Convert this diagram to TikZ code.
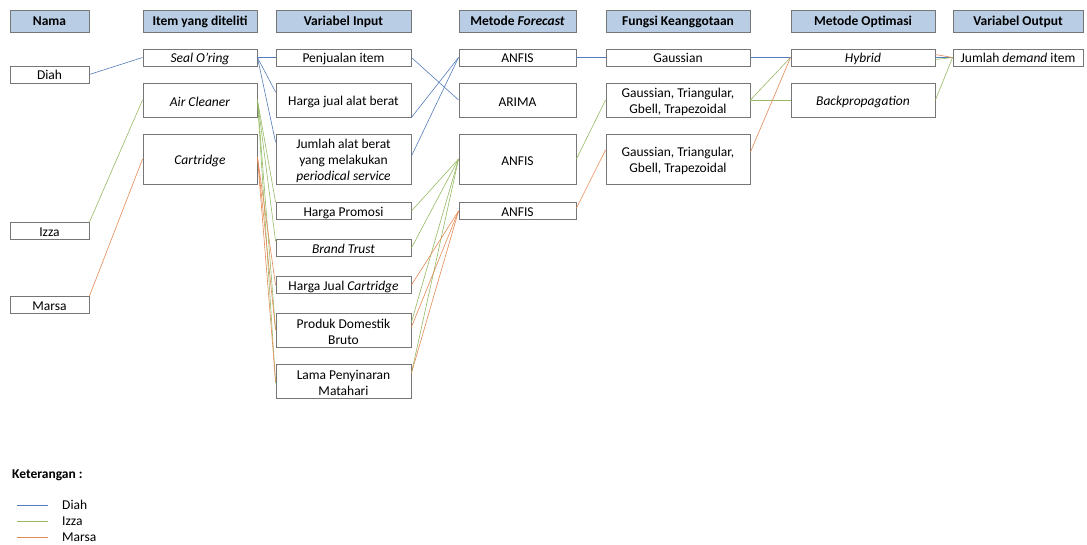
\documentclass[tikz,border=0pt]{standalone}
\usepackage{fontspec}
\setmainfont{Carlito}
\usepackage{tikz}

\definecolor{hdrblue}{RGB}{185,205,229}
\definecolor{boxgray}{RGB}{118,118,118}
\definecolor{diahc}{RGB}{84,124,186}
\definecolor{izzac}{RGB}{150,185,100}
\definecolor{marsac}{RGB}{226,138,84}

\newcommand{\boxfont}{\fontsize{13.5}{16}\selectfont}
\newcommand{\firstline}{\rule{0pt}{13.5pt}}

\tikzset{
  hdr/.style={draw=boxgray, fill=hdrblue, line width=0.9pt, inner sep=0pt,
    minimum height=22pt, text height=11pt, text depth=2pt, font=\boxfont\bfseries},
  box/.style={draw=boxgray, line width=0.9pt, inner sep=0pt, align=center},
  one/.style={minimum height=17pt, text height=11.5pt, text depth=1pt},
  two/.style={minimum height=34pt},
  three/.style={minimum height=50pt},
  diah/.style={diahc, line width=0.6pt},
  izza/.style={izzac, line width=0.6pt},
  marsa/.style={marsac, line width=0.6pt},
  legtext/.style={anchor=west, inner sep=0pt}
}

\begin{document}
\begin{tikzpicture}[x=1pt, y=-1pt, font=\boxfont]
  \useasboundingbox (0,0) rectangle (1087,545);

  % column headers
  \node[hdr, minimum width=79pt]  (hnama)  at (49.5,21)  {Nama};
  \node[hdr, minimum width=114pt] (hitem)  at (200,21)   {Item yang diteliti};
  \node[hdr, minimum width=135pt] (hinput) at (343.5,21) {Variabel Input};
  \node[hdr, minimum width=117pt] (hfc)    at (517.5,21) {Metode \textit{Forecast}};
  \node[hdr, minimum width=144pt] (hmf)    at (678,21)   {Fungsi Keanggotaan};
  \node[hdr, minimum width=144pt] (hopt)   at (863,21)   {Metode Optimasi};
  \node[hdr, minimum width=130pt] (hout)   at (1018,21)  {Variabel Output};

  % nama
  \node[box, one, minimum width=79pt] (diah)  at (49.5,74.5) {Diah};
  \node[box, one, minimum width=79pt] (izza)  at (49.5,231)  {Izza};
  \node[box, one, minimum width=79pt] (marsa) at (49.5,305)  {Marsa};

  % item
  \node[box, one,   minimum width=114pt] (seal) at (200,57.5) {\textit{Seal O’ring}};
  \node[box, two,   minimum width=114pt] (air)  at (200,100)  {\firstline\textit{Air Cleaner}};
  \node[box, three, minimum width=114pt] (cart) at (200,159)  {\firstline\textit{Cartridge}};

  % variabel input
  \node[box, one,   minimum width=135pt] (pjl)   at (343.5,57.5) {Penjualan item};
  \node[box, two,   minimum width=135pt] (hja)   at (343.5,100)  {\firstline Harga jual alat berat};
  \node[box, three, minimum width=135pt] (jml)   at (343.5,159)  {\firstline Jumlah alat berat\\yang melakukan\\\textit{periodical service}};
  \node[box, one,   minimum width=135pt] (promo) at (343.5,211)  {Harga Promosi};
  \node[box, one,   minimum width=135pt] (brand) at (343.5,248)  {\textit{Brand Trust}};
  \node[box, one,   minimum width=135pt] (hjc)   at (343.5,285)  {Harga Jual \textit{Cartridge}};
  \node[box, two,   minimum width=135pt] (pdb)   at (343.5,330)  {\firstline Produk Domestik\\Bruto};
  \node[box, two,   minimum width=135pt] (lpm)   at (343.5,381)  {\firstline Lama Penyinaran\\Matahari};

  % metode forecast
  \node[box, one,   minimum width=117pt] (anf1)  at (517.5,57.5) {ANFIS};
  \node[box, two,   minimum width=117pt] (arima) at (517.5,100)  {\firstline ARIMA};
  \node[box, three, minimum width=117pt] (anf2)  at (517.5,159)  {\firstline ANFIS};
  \node[box, one,   minimum width=117pt] (anf3)  at (517.5,211)  {ANFIS};

  % fungsi keanggotaan
  \node[box, one,   minimum width=144pt] (gs1) at (678,57.5) {Gaussian};
  \node[box, two,   minimum width=144pt] (gs2) at (678,100)  {\firstline Gaussian, Triangular,\\Gbell, Trapezoidal};
  \node[box, three, minimum width=144pt] (gs3) at (678,159)  {\firstline Gaussian, Triangular,\\Gbell, Trapezoidal};

  % metode optimasi, output
  \node[box, one, minimum width=144pt] (hyb) at (863,57.5) {\textit{Hybrid}};
  \node[box, two, minimum width=144pt] (bp)  at (863,100)  {\firstline\textit{Backpropagation}};
  \node[box, one, minimum width=130pt] (out) at (1018,57.5) {Jumlah \textit{demand} item};

  % Diah
  \draw[diah] (diah.east) -- (seal.west);
  \draw[diah] (seal.east) -- (pjl.west);
  \draw[diah] (seal.east) -- ([yshift=8pt]hja.west);
  \draw[diah] (seal.east) -- ([yshift=17pt]jml.west);
  \draw[diah] (pjl.east) -- (arima.west);
  \draw[diah] (hja.south east) -- (anf1.west);
  \draw[diah] ([yshift=3pt]jml.east) -- (anf1.west);
  \draw[diah] (anf1.east) -- (gs1.west);
  \draw[diah] (gs1.east) -- (hyb.west);
  \draw[diah] (hyb.east) -- (out.west);

  % Izza
  \draw[izza] (izza.north east) -- (air.west);
  \draw[izza] (air.east) -- (promo.north west);
  \draw[izza] (air.east) -- ([yshift=-2pt]brand.north west);
  \draw[izza] (air.east) -- (pdb.west);
  \draw[izza] (air.east) -- ([yshift=-2pt]lpm.west);
  \draw[izza] (promo.east) -- (anf2.west);
  \draw[izza] (brand.east) -- (anf2.west);
  \draw[izza] ([yshift=8pt]pdb.east) -- (anf2.west);
  \draw[izza] ([yshift=8pt]lpm.east) -- (anf2.west);
  \draw[izza] (anf2.east) -- (gs2.west);
  \draw[izza] (gs2.east) -- (hyb.west);
  \draw[izza] (gs2.east) -- (bp.west);
  \draw[izza] ([yshift=-2pt]hyb.east) -- (out.west);
  \draw[izza] (bp.east) -- (out.west);

  % Marsa
  \draw[marsa] (marsa.north east) -- (cart.west);
  \draw[marsa] ([yshift=2pt]cart.east) -- (hjc.west);
  \draw[marsa] ([yshift=2pt]cart.east) -- (pdb.west);
  \draw[marsa] ([yshift=2pt]cart.east) -- (lpm.west);
  \draw[marsa] (hjc.east) -- (anf3.west);
  \draw[marsa] ([yshift=3pt]pdb.east) -- (anf3.west);
  \draw[marsa] ([yshift=8pt]lpm.east) -- (anf3.west);
  \draw[marsa] ([yshift=3pt]anf3.east) -- ([yshift=9pt]gs3.west);
  \draw[marsa] ([yshift=7pt]gs3.east) -- (hyb.west);
  \draw[marsa] ([yshift=3pt]hyb.east) -- (out.west);

  % keterangan
  \node[legtext, font=\boxfont\bfseries] (ket) at (12,475) {Keterangan :};
  \node[legtext] (ldiah)  at (62,505) {Diah};
  \node[legtext] (lizza)  at (62,521) {Izza};
  \node[legtext] (lmarsa) at (62,537) {Marsa};
  \coordinate (kdiah)  at (17,505);
  \coordinate (kizza)  at (17,521);
  \coordinate (kmarsa) at (17,537);
  \draw[diah, line width=0.9pt]  (kdiah)  -- ++(31,0);
  \draw[izza, line width=0.9pt]  (kizza)  -- ++(31,0);
  \draw[marsa, line width=0.9pt] (kmarsa) -- ++(31,0);
\end{tikzpicture}
\end{document}
